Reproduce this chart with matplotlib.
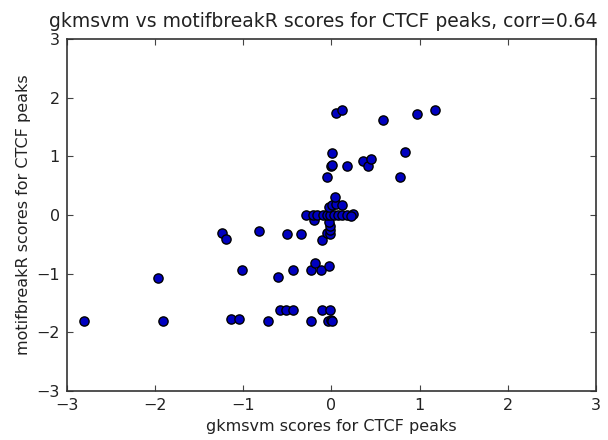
import matplotlib
matplotlib.use('Agg')
import matplotlib.pyplot as plt

# gkmsvm vs motifbreakR scores per CTCF peak
gkmsvm = [-2.81, -1.91, -1.14, -1.05, -0.72, -0.23, -0.04, 0.00, 0.01,
          -0.58, -0.52, -0.44, -0.11, -0.01,
          -1.97, -1.01, -0.61, -0.43, -0.23, -0.12, -0.19, -0.03,
          -1.24, -1.19, -0.82, -0.50, -0.35, -0.11, -0.05, -0.01, -0.02, -0.01, -0.03, -0.20,
          -0.29, -0.21, -0.16, -0.10, -0.05, -0.01, 0.03, 0.07, 0.125, 0.18, 0.24, 0.22,
          -0.03, 0.01, 0.05, 0.125, 0.04, -0.05, 0.00, 0.01, 0.18, 0.01,
          0.36, 0.41, 0.45, 0.78, 0.83, 0.05, 0.125, 0.59, 0.97, 1.18]
motifbreakr = [-1.80, -1.80, -1.77, -1.77, -1.80, -1.80, -1.80, -1.78, -1.80,
               -1.62, -1.62, -1.62, -1.62, -1.62,
               -1.07, -0.94, -1.06, -0.94, -0.94, -0.94, -0.81, -0.87,
               -0.31, -0.40, -0.27, -0.32, -0.32, -0.42, -0.30, -0.32, -0.26, -0.19, -0.11, -0.09,
               0.00, 0.00, 0.00, 0.00, 0.00, 0.00, 0.00, 0.00, 0.00, 0.00, 0.02, -0.01,
               0.14, 0.18, 0.19, 0.18, 0.31, 0.65, 0.84, 0.86, 0.84, 1.06,
               0.92, 0.84, 0.95, 0.65, 1.08, 1.74, 1.79, 1.62, 1.73, 1.79]
corr = 0.64

fig = plt.figure(figsize=(6.08, 4.4), dpi=100)
ax = fig.add_axes([0.110, 0.111, 0.870, 0.800])

ax.scatter(gkmsvm, motifbreakr, s=44, c='#0000c0', edgecolors='black', linewidths=1)

ax.set_xlim(-3, 3)
ax.set_ylim(-3, 3)
ax.set_xticks([-3, -2, -1, 0, 1, 2, 3])
ax.set_yticks([-3, -2, -1, 0, 1, 2, 3])
ax.tick_params(direction='in', top=True, right=True, length=4, labelsize=11.5, pad=5,
               color='#444444', labelcolor='#222222')
for sp in ax.spines.values():
    sp.set_color('#333333')
    sp.set_linewidth(1.2)

# title sits a little left of the axes centre so it stays inside the figure
fig.text(0.532, 0.952, 'gkmsvm vs motifbreakR scores for CTCF peaks, corr=%.2f' % corr,
         fontsize=13.5, color='#222222', ha='center', va='center')
ax.set_xlabel('gkmsvm scores for CTCF peaks', fontsize=11.5, color='#222222')
ax.set_ylabel('motifbreakR scores for CTCF peaks', fontsize=11.5, color='#222222')

fig.savefig('out.png', dpi=100)
